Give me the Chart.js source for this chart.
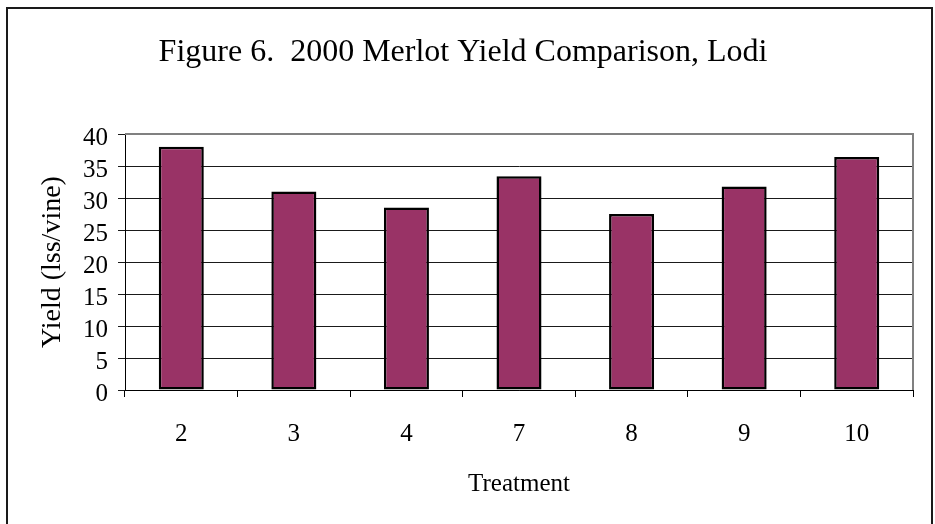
<!DOCTYPE html>
<html>
<head>
<meta charset="utf-8">
<script src="https://cdn.jsdelivr.net/npm/chart.js@4/dist/chart.umd.min.js"></script>
<style>
  html, body { margin: 0; padding: 0; background: #ffffff; }
  #wrap { width: 935px; height: 524px; position: relative; }
</style>
</head>
<body>
<div id="wrap"><canvas id="chart" width="935" height="524"></canvas></div>
<script>
// Treatment numbers along the category axis
const treatments = ['2', '3', '4', '7', '8', '9', '10'];
// Yield per vine for each treatment
const yieldValues = [38.0, 31.0, 28.5, 33.4, 27.5, 31.8, 36.4];
// Value axis range and step
const yMin = 0;
const yMax = 40;
const yStep = 5;

const serif = "'Liberation Serif', 'Times New Roman', serif";

// Frame around the whole figure and the grey border of the plot area
const framePlugin = {
  id: 'frame',
  beforeDatasetsDraw(chart) {
    const { ctx, chartArea: a } = chart;
    ctx.save();
    ctx.strokeStyle = '#808080';
    ctx.lineWidth = 2;
    ctx.beginPath();
    ctx.moveTo(a.left, a.top);
    ctx.lineTo(a.right, a.top);
    ctx.lineTo(a.right, a.bottom);
    ctx.stroke();
    ctx.restore();
  },
  afterDraw(chart) {
    const { ctx, width } = chart;
    ctx.save();
    ctx.strokeStyle = '#1a1a1a';
    ctx.lineWidth = 2;
    ctx.beginPath();
    ctx.moveTo(7, 530);
    ctx.lineTo(7, 8);
    ctx.lineTo(width - 3, 8);
    ctx.lineTo(width - 3, 530);
    ctx.stroke();
    ctx.restore();
  }
};

new Chart(document.getElementById('chart'), {
  type: 'bar',
  data: {
    labels: treatments,
    datasets: [{
      data: yieldValues,
      backgroundColor: '#993366',
      borderColor: '#000000',
      borderWidth: 2.5,
      borderSkipped: false,
      categoryPercentage: 1.0,
      barPercentage: 0.4
    }]
  },
  options: {
    responsive: false,
    animation: false,
    devicePixelRatio: 1,
    layout: { padding: { left: 13, right: 22, top: 0, bottom: 0 } },
    plugins: {
      legend: { display: false },
      tooltip: { enabled: false },
      title: {
        display: true,
        text: 'Figure 6.  2000 Merlot Yield Comparison, Lodi',
        color: '#000000',
        font: { family: serif, size: 32, weight: 'normal', lineHeight: 1.2 },
        padding: { top: 33, bottom: 62.6 }
      }
    },
    scales: {
      x: {
        grid: {
          offset: true,
          drawOnChartArea: false,
          drawTicks: true,
          tickLength: 7,
          color: '#000000',
          lineWidth: 1
        },
        border: { display: true, color: '#000000', width: 1 },
        ticks: {
          color: '#000000',
          font: { family: serif, size: 25 },
          padding: 22,
          maxRotation: 0
        },
        title: {
          display: true,
          text: 'Treatment',
          color: '#000000',
          font: { family: serif, size: 25, lineHeight: 1.2 },
          padding: { top: 0, bottom: 25 }
        },
        afterFit(scale) { scale.height = 134; }
      },
      y: {
        min: yMin,
        max: yMax,
        grid: {
          color: '#1a1a1a',
          lineWidth: 1,
          drawTicks: true,
          tickLength: 7
        },
        border: { display: true, color: '#000000', width: 1 },
        ticks: {
          stepSize: yStep,
          autoSkip: false,
          color: '#000000',
          font: { family: serif, size: 25 },
          padding: 10,
          labelOffset: 4
        },
        title: {
          display: true,
          text: 'Yield (lss/vine)',
          color: '#000000',
          font: { family: serif, size: 28, lineHeight: 1.2 },
          padding: { top: 23, bottom: 0 }
        },
        afterFit(scale) { scale.width = 112; }
      }
    }
  },
  plugins: [framePlugin]
});
</script>
</body>
</html>
